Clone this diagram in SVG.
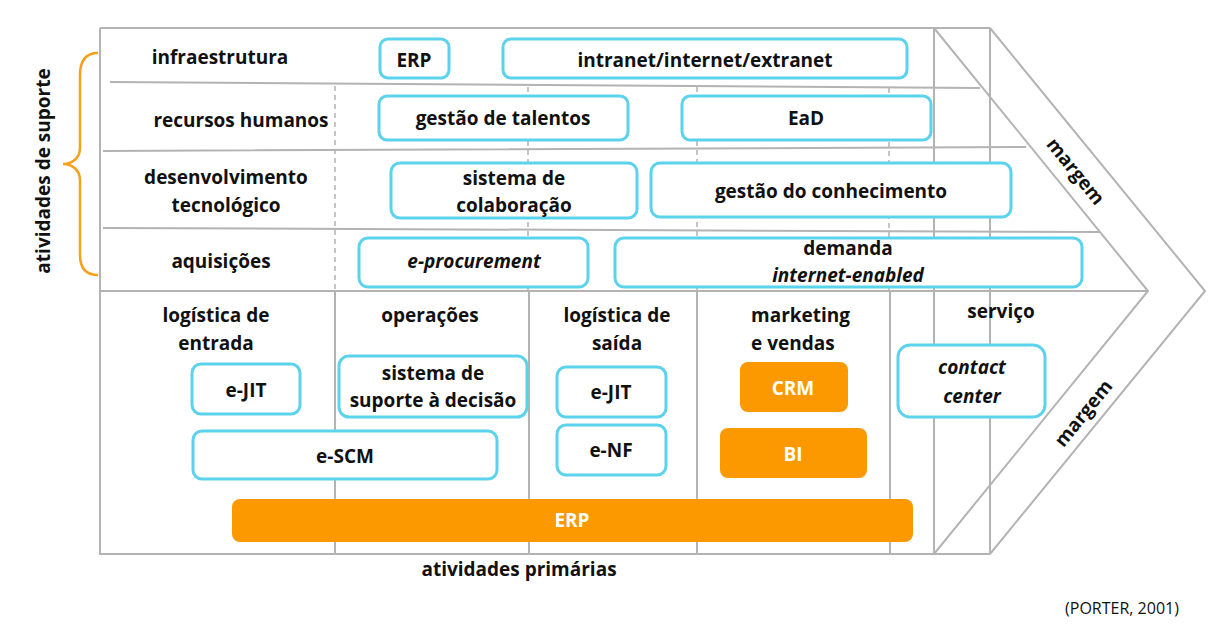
<svg xmlns="http://www.w3.org/2000/svg" width="1208" height="624" viewBox="0 0 1208 624">
<style>
.ln{stroke:#b3b3b3;stroke-width:2;fill:none}
.dl{stroke:#b3b3b3;stroke-width:1.5;fill:none;stroke-dasharray:5 4}
.bx{fill:#fff;stroke:#5cd3ec;stroke-width:3}
.ob{fill:#fc9900;stroke:none}
text{font-family:"Open Sans","Liberation Sans",sans-serif;font-weight:bold;font-size:19px;fill:#111;text-anchor:middle}
.w{fill:#fff}
.i{font-style:italic}
</style>
<rect width="1208" height="624" fill="#fff"/>
<g id="frame">
<path class="ln" d="M100,28 H990 M100,28 V554 H990 M934,28 V554 M990,28 V554 M934,28 L1148,291 L934,554 M990,28 L1205,291 L990,554"/>
<path class="ln" d="M110,82 L980,88 M103,151 L1026,147 M103,228 L1100,232 M100,291 H1148"/>
<path class="ln" d="M335,291 V554 M529,291 V554 M697,291 V554 M890,291 V554"/>
<path class="dl" d="M335,86 V291 M528,87 V291 M697,87 V291 M889,88 V291"/>
</g>
<g id="brace"><path d="M98,53 C86,53 80,60 80,75 L80,148 C80,158 72,164 63,164 C72,164 80,170 80,180 L80,255 C80,268 86,275 98,275" fill="none" stroke="#f7a01c" stroke-width="2.5"/></g>
<g id="labels">
<text x="220" y="64">infraestrutura</text>
<text x="241" y="127">recursos humanos</text>
<text x="226" y="184">desenvolvimento</text>
<text x="226" y="212">tecnológico</text>
<text x="221" y="268">aquisições</text>
<text x="216" y="322">logística de</text>
<text x="216" y="350">entrada</text>
<text x="430" y="322">operações</text>
<text x="617" y="322">logística de</text>
<text x="617" y="350">saída</text>
<text x="751" y="322" style="text-anchor:start">marketing</text>
<text x="751" y="350" style="text-anchor:start">e vendas</text>
<text x="1001" y="318">serviço</text>
<text x="519" y="576">atividades primárias</text>
<text transform="translate(50,171) rotate(-90)">atividades de suporte</text>
<text transform="translate(1076,171) rotate(51)" dy="7">margem</text>
<text transform="translate(1083,413) rotate(-51)" dy="7">margem</text>
<text x="1122" y="614" style="font-weight:normal;font-size:16px">(PORTER, 2001)</text>
</g>
<g id="n-erp1"><rect class="bx" x="380" y="39" width="69" height="39" rx="8"/><text x="414" y="67">ERP</text></g>
<g id="n-intranet"><rect class="bx" x="503" y="39" width="404" height="39" rx="8"/><text x="705" y="67">intranet/internet/extranet</text></g>
<g id="n-talentos"><rect class="bx" x="379" y="96" width="249" height="44" rx="8"/><text x="503" y="125">gestão de talentos</text></g>
<g id="n-ead"><rect class="bx" x="682" y="96" width="249" height="44" rx="8"/><text x="806" y="125">EaD</text></g>
<g id="n-colab"><rect class="bx" x="391" y="163" width="246" height="55" rx="9"/><text x="514" y="185">sistema de</text><text x="514" y="212">colaboração</text></g>
<g id="n-conhec"><rect class="bx" x="651" y="163" width="360" height="54" rx="9"/><text x="831" y="198">gestão do conhecimento</text></g>
<g id="n-eproc"><rect class="bx" x="359" y="238" width="229" height="49" rx="9"/><text class="i" x="474" y="268">e-procurement</text></g>
<g id="n-demanda"><rect class="bx" x="615" y="238" width="467" height="49" rx="9"/><text x="848" y="255">demanda</text><text class="i" x="848" y="282">internet-enabled</text></g>
<g id="n-ejit1"><rect class="bx" x="192" y="364" width="108" height="50" rx="9"/><text x="246" y="397">e-JIT</text></g>
<g id="n-ssd"><rect class="bx" x="339" y="356" width="188" height="61" rx="10"/><text x="433" y="380">sistema de</text><text x="433" y="407">suporte à decisão</text></g>
<g id="n-escm"><rect class="bx" x="193" y="431" width="304" height="48" rx="9"/><text x="345" y="463">e-SCM</text></g>
<g id="n-ejit2"><rect class="bx" x="557" y="367" width="109" height="50" rx="9"/><text x="611" y="399">e-JIT</text></g>
<g id="n-enf"><rect class="bx" x="557" y="425" width="109" height="50" rx="9"/><text x="611" y="457">e-NF</text></g>
<g id="n-crm"><rect class="ob" x="740" y="362" width="108" height="50" rx="8"/><text class="w" x="793" y="395">CRM</text></g>
<g id="n-bi"><rect class="ob" x="720" y="428" width="147" height="50" rx="8"/><text class="w" x="793" y="461">BI</text></g>
<g id="n-contact"><rect class="bx" x="898" y="345" width="147" height="72" rx="12"/><text class="i" x="972" y="374">contact</text><text class="i" x="972" y="403">center</text></g>
<g id="n-erp2"><rect class="ob" x="232" y="499" width="681" height="43" rx="8"/><text class="w" x="572" y="527">ERP</text></g>
<g id="connectors"/>
</svg>
